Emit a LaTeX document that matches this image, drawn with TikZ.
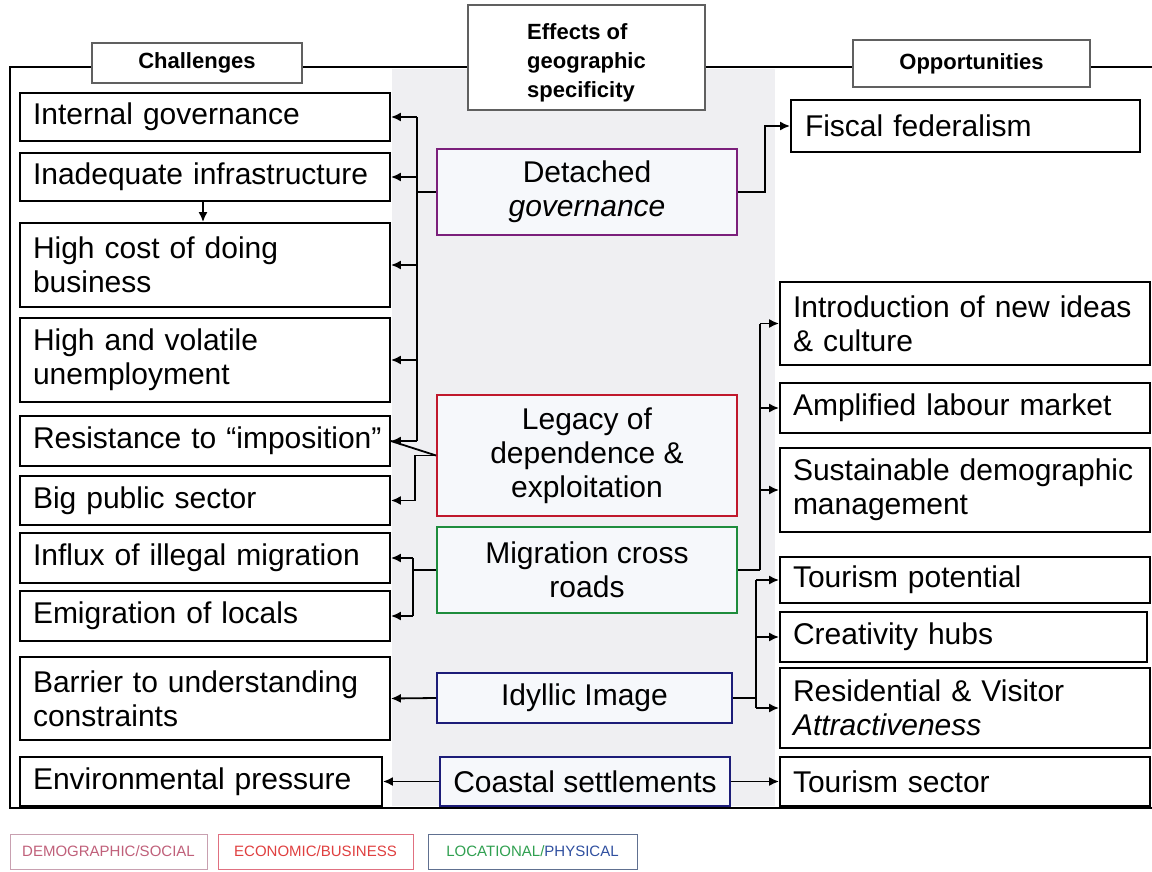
\documentclass[tikz,border=0pt]{standalone}
\usepackage{fontspec}
\setmainfont{Liberation Sans}
\usetikzlibrary{arrows.meta,calc}
\definecolor{midgray}{HTML}{EFEFF2}
\definecolor{cpurple}{HTML}{7B1F7B}
\definecolor{cred}{HTML}{C0182C}
\definecolor{cgreen}{HTML}{1E8C3C}
\definecolor{cnavy}{HTML}{1C1C78}
\definecolor{mfill}{HTML}{F6F8FB}
\definecolor{hdrline}{HTML}{606060}
\definecolor{legpink}{HTML}{C0607A}
\definecolor{legpinkb}{HTML}{C8A0B0}
\definecolor{legred}{HTML}{E04040}
\definecolor{legredb}{HTML}{E07080}
\definecolor{leggreen}{HTML}{30A050}
\definecolor{legblue}{HTML}{3050A0}
\definecolor{legblueb}{HTML}{607090}
\begin{document}
\begin{tikzpicture}[x=1pt,y=-1pt,
  box/.style={draw=black, line width=1.8pt, fill=white, inner ysep=0pt,
    font=\fontsize{30}{34}\selectfont},
  lbox/.style={box, text width=344pt, inner xsep=13pt, align=left},
  mbox/.style={draw=#1, line width=1.8pt, fill=mfill, align=center, inner sep=0pt,
    font=\fontsize{30}{34}\selectfont},
  hbox/.style={draw=hdrline, line width=1.5pt, fill=white, inner sep=0pt,
    font=\fontsize{22}{29}\selectfont\bfseries},
  legbox/.style={draw=#1, line width=1pt, fill=white, minimum height=35pt, inner sep=0pt,
    font=\fontsize{15}{18}\selectfont},
  arr/.style={-{Latex[length=10pt,width=9pt]}, line width=1.8pt},
  bus/.style={line width=2.6pt},
  ln/.style={line width=1.8pt}]
\useasboundingbox (0,0) rectangle (1152,872);
% background column and frame
\fill[midgray] (392,69) rectangle (775,806);
\draw[line width=2.5pt] (1152,67) -- (10,67) -- (10,808) -- (1152,808);
% headers
\node[hbox, minimum width=210pt, minimum height=40pt] (chal) at (197,63) {Challenges};
\node[hbox, minimum width=237pt, minimum height=105pt] (eff) at (586.5,57.5) {};
\node[font=\fontsize{22}{29}\selectfont\bfseries, align=left, inner sep=0pt] (efft) at ($(eff.center)+(0,5)$) {Effects of\\geographic\\specificity};
\node[hbox, minimum width=237pt, minimum height=47pt] (opp) at (971.5,63.5) {Opportunities};
% left boxes
\node[lbox, minimum height=48pt] (ig) at (205,117) {Internal governance};
\node[lbox, minimum height=48pt] (ii) at (205,177) {Inadequate infrastructure};
\node[lbox, minimum height=84pt] (hc) at (205,265) {High cost of doing\\business};
\node[lbox, minimum height=84pt] (hu) at (205,360) {High and volatile\\unemployment};
\node[lbox, minimum height=50pt] (ri) at (205,441) {\mbox{Resistance to “imposition”}};
\node[lbox, minimum height=49pt] (bp) at (205,500.5) {Big public sector};
\node[lbox, minimum height=50pt] (im) at (205,558) {Influx of illegal migration};
\node[lbox, minimum height=50pt] (em) at (205,616) {Emigration of locals};
\node[lbox, minimum height=83pt] (bu) at (205,698.5) {Barrier to understanding\\constraints};
\node[lbox, text width=336pt, minimum height=49pt] (ep) at (201,781.5) {Environmental pressure};
% middle boxes
\node[mbox=cpurple, minimum width=300pt, minimum height=86pt] (dg) at (587,192) {Detached\\\textit{governance}};
\node[mbox=cred, minimum width=300pt, minimum height=121pt] (lg) at (587,455.5) {Legacy of\\dependence \&\\exploitation};
\node[mbox=cgreen, minimum width=300pt, minimum height=86pt] (mc) at (587,570) {Migration cross\\roads};
\node[mbox=cnavy, minimum width=295pt, minimum height=50pt] (id) at (584.5,698) {Idyllic Image};
\node[mbox=cnavy, minimum width=290pt, minimum height=49pt] (cs) at (585,781.5) {Coastal settlements};
% right boxes
\node[lbox, text width=321pt, inner xsep=14pt, minimum height=52pt] (ff) at (965.5,126) {Fiscal federalism};
\node[lbox, minimum height=83pt] (in) at (965,323.5) {Introduction of new ideas\\\& culture};
\node[lbox, minimum height=50pt] (al) at (965,408) {Amplified labour market};
\node[lbox, minimum height=84pt] (sd) at (965,490) {Sustainable demographic\\management};
\node[lbox, minimum height=46pt] (tp) at (965,580) {Tourism potential};
\node[lbox, text width=341pt, minimum height=50pt] (ch) at (963.5,637) {Creativity hubs};
\node[lbox, minimum height=80pt] (rv) at (965,708) {Residential \& Visitor\\\textit{Attractiveness}};
\node[lbox, minimum height=49pt] (ts) at (965,781.5) {Tourism sector};
% legend
\node[legbox=legpinkb, minimum width=197pt, text=legpink] (l1) at (108.5,851.5) {DEMOGRAPHIC/SOCIAL};
\node[legbox=legredb, minimum width=195pt, text=legred] (l2) at (315.5,851.5) {ECONOMIC/BUSINESS};
\node[legbox=legblueb, minimum width=209pt] (l3) at (532.5,851.5) {\textcolor{leggreen}{LOCATIONAL/}\textcolor{legblue}{PHYSICAL}};
% bus coordinates
\coordinate (bL) at (417,0);
\coordinate (kL) at (415,0);
\coordinate (mL) at (413,0);
\coordinate (iC) at (203,0);
\coordinate (fR) at (765,0);
\coordinate (mR) at (760,0);
\coordinate (iR) at (756,0);
% detached governance -> challenges
\draw[bus] (dg.west) -- (dg.west -| bL);
\draw[bus] (bL |- ig.east) -- (bL |- hu.east);
\draw[ln] (bL |- hu.east) -- (bL |- ri.east);
\draw[arr] (bL |- ig.east) -- (ig.east);
\draw[arr] (bL |- ii.east) -- (ii.east);
\draw[arr] (bL |- hc.east) -- (hc.east);
\draw[arr] (bL |- hu.east) -- (hu.east);
\draw[arr] (bL |- ri.east) -- (ri.east);
\draw[arr] (iC |- ii.south) -- (iC |- hc.north);
% legacy -> challenges
\draw[ln] (lg.west) -- (ri.east);
\draw[arr] (lg.west) -- (lg.west -| kL) |- (bp.east);
% migration -> challenges
\draw[ln] (mc.west) -- (mc.west -| mL);
\draw[bus] (mL |- im.east) -- (mL |- em.east);
\draw[arr] (mL |- im.east) -- (im.east);
\draw[arr] (mL |- em.east) -- (em.east);
% idyllic, coastal
\draw[arr] (id.west) -- (bu.east);
\draw[arr] (cs.west) -- (ep.east);
\draw[arr] (cs.east) -- (ts.west);
% detached -> fiscal
\draw[arr] (dg.east) -- (dg.east -| fR) |- (ff.west);
% migration -> opportunities
\draw[bus] (mc.east) -- (mc.east -| mR);
\draw[bus] (mR |- in.west) -- (mR |- mc.east);
\draw[arr] (mR |- in.west) -- (in.west);
\draw[arr] (mR |- al.west) -- (al.west);
\draw[arr] (mR |- sd.west) -- (sd.west);
% idyllic -> opportunities
\draw[bus] (id.east) -- (id.east -| iR);
\draw[ln] (iR |- tp.west) -- (iR |- rv.west);
\draw[arr] (iR |- tp.west) -- (tp.west);
\draw[arr] (iR |- ch.west) -- (ch.west);
\draw[arr] (iR |- rv.west) -- (rv.west);
\end{tikzpicture}
\end{document}
